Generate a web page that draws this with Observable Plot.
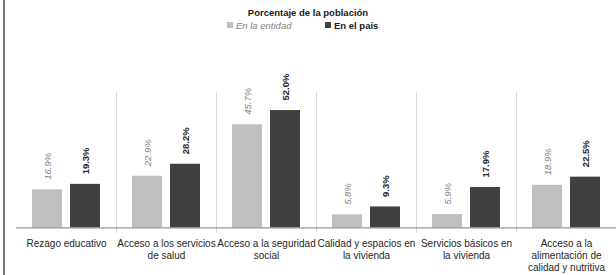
<!DOCTYPE html>
<html>
<head>
<meta charset="utf-8">
<script src="https://cdn.jsdelivr.net/npm/d3@7"></script>
<script src="https://cdn.jsdelivr.net/npm/@observablehq/plot@0.6"></script>
<style>
  body { margin: 0; background: #fff; font-family: "Liberation Sans", Arial, sans-serif; }
  #wrap { position: relative; width: 616px; height: 275px; overflow: hidden; }
  #border { position: absolute; left: 3px; top: 0; width: 2px; height: 275px; background: #7a7a7a; }
  #header { position: absolute; left: 0; top: 0; width: 616px; height: 35px; }
  #title { position: absolute; left: 0; width: 616px; top: 7px; text-align: center; font-size: 9.5px; font-weight: bold; color: #1a1a1a; }
  .leg { position: absolute; top: 20px; font-size: 9.5px; white-space: nowrap; line-height: 12px; }
  .sw { display: inline-block; width: 6px; height: 6px; margin-right: 3px; vertical-align: 1px; }
  #chart { position: absolute; left: 0; top: 35px; }
</style>
</head>
<body>
<div id="wrap">
  <div id="border"></div>
  <div id="header">
    <div id="title"></div>
    <div class="leg" id="leg0" style="left:227px; font-style:italic; color:#7f7f7f;"></div>
    <div class="leg" id="leg1" style="left:325px; color:#1a1a1a;"></div>
  </div>
  <div id="chart"></div>
</div>
<script>
const titulo = "Porcentaje de la población";
const categorias = ["Rezago educativo", "Acceso a los servicios de salud", "Acceso a la seguridad social", "Calidad y espacios en la vivienda", "Servicios básicos en la vivienda", "Acceso a la alimentación de calidad y nutritiva"];
const etiquetas = ["Rezago educativo", "Acceso a los servicios\nde salud", "Acceso a la seguridad\nsocial", "Calidad y espacios en\nla vivienda", "Servicios básicos en\nla vivienda", "Acceso a la\nalimentación de\ncalidad y nutritiva"];
const series = ["En la entidad", "En el país"];
const entidad = [16.9, 22.9, 45.7, 5.8, 5.9, 18.9];
const pais = [19.3, 28.2, 52.0, 9.3, 17.9, 22.5];
const colores = ["#bfbfbf", "#404040"];

const data = categorias.flatMap((c, i) => [
  {cat: c, serie: series[0], v: entidad[i]},
  {cat: c, serie: series[1], v: pais[i]}
]);

document.getElementById("title").textContent = titulo;
series.forEach((s, i) => {
  const el = document.getElementById("leg" + i);
  const sw = document.createElement("span");
  sw.className = "sw";
  sw.style.background = colores[i];
  el.appendChild(sw);
  el.appendChild(document.createTextNode(s));
  if (i === 1) el.style.fontWeight = "bold";
});

const fmt = d => d.v.toFixed(1) + "%";

const chart = Plot.plot({
  width: 616,
  height: 240,
  marginTop: 57,
  marginBottom: 43.5,
  marginLeft: 15,
  marginRight: 0,
  style: {fontFamily: "'Liberation Sans', Arial, sans-serif", background: "transparent"},
  fx: {domain: categorias, padding: 0, label: null},
  x: {domain: series, paddingInner: 0.205, paddingOuter: 0.385, axis: null},
  y: {domain: [-1.8, 60], axis: null},
  color: {domain: series, range: colores},
  marks: [
    Plot.frame({anchor: "right", stroke: "#d9d9d9", strokeWidth: 1}),
    Plot.barY(data, {fx: "cat", x: "serie", y: "v", fill: "serie"}),
    Plot.ruleY([0], {stroke: "#808080", strokeWidth: 1}),
    Plot.text(data.filter(d => d.serie === series[0]), {
      fx: "cat", x: "serie", y: "v", text: fmt, rotate: -90, textAnchor: "start",
      dy: -10, fill: "#7f7f7f", fontStyle: "italic", fontSize: 9.5
    }),
    Plot.text(data.filter(d => d.serie === series[1]), {
      fx: "cat", x: "serie", y: "v", text: fmt, rotate: -90, textAnchor: "start",
      dy: -10, fill: "#262626", fontWeight: "bold", fontSize: 9.5
    }),
    Plot.axisFx({
      anchor: "bottom", tickSize: 0, tickPadding: 6, label: null,
      tickFormat: c => etiquetas[categorias.indexOf(c)],
      lineHeight: 1.2, fontSize: 10, fill: "#262626"
    })
  ]
});
document.getElementById("chart").appendChild(chart);
</script>
</body>
</html>
